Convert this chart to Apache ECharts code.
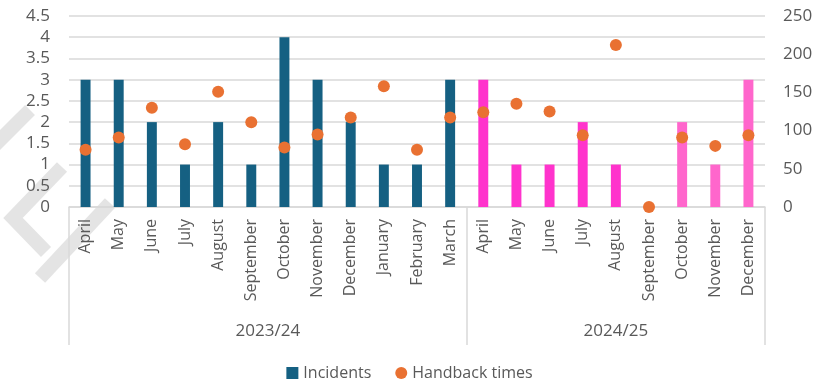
<!DOCTYPE html>
<html>
<head>
<meta charset="utf-8">
<script src="https://cdn.jsdelivr.net/npm/echarts@6/dist/echarts.min.js"></script>
<style>
  html, body { margin: 0; padding: 0; background: #fff; }
  #chart { width: 819px; height: 389px; }
</style>
</head>
<body>
<div id="chart"></div>
<script>
// data
var months = ['April', 'May', 'June', 'July', 'August', 'September', 'October', 'November',
              'December', 'January', 'February', 'March',
              'April', 'May', 'June', 'July', 'August', 'September', 'October', 'November', 'December'];
var periods = ['2023/24', '2024/25'];
var periodLength = [12, 9];
var incidents = [3, 3, 2, 1, 2, 1, 4, 3, 2, 1, 1, 3,
                 3, 1, 1, 2, 1, 0, 2, 1, 3];
var handback = [75, 91, 130, 82, 151, 111, 78, 95, 117, 158, 75, 117,
                124, 135, 125, 94, 212, 0, 91, 80, 94];

var BLUE = '#156082', MAGENTA = '#FF33CC', PINK = '#FF66CC', ORANGE = '#E97132';
var TEXT = '#595959', GRID = '#d9d9d9';
var FONT = 'Open Sans';

// unique keys so repeated month names stay separate categories
var cats = months.map(function (m, i) { return i + '|' + m; });

// where each period starts and its centre (in category units)
var starts = [], centres = [], acc = 0;
periodLength.forEach(function (n) {
    starts.push(acc);
    centres.push(acc + n / 2);
    acc += n;
});

var myChart = echarts.init(document.getElementById('chart'));

var option = {
    backgroundColor: '#fff',
    color: [BLUE, ORANGE],
    textStyle: { fontFamily: FONT },
    legend: {
        bottom: 3,
        left: 'center',
        itemGap: 24,
        itemWidth: 12,
        itemHeight: 12,
        textStyle: { color: TEXT, fontSize: 16, fontFamily: FONT },
        data: [
            { name: 'Incidents', icon: 'rect' },
            { name: 'Handback times', icon: 'circle' }
        ]
    },
    graphic: [
        // faint logo watermark on the left
        { type: 'polyline', z: -10, silent: true,
          shape: { points: [[30, 110], [-12, 152]] },
          style: { stroke: '#e4e4e4', lineWidth: 14, fill: null } },
        { type: 'polyline', z: -10, silent: true,
          shape: { points: [[62, 167], [13, 218], [46, 252]] },
          style: { stroke: '#e4e4e4', lineWidth: 14, fill: null, lineJoin: 'miter' } },
        { type: 'polyline', z: -10, silent: true,
          shape: { points: [[40, 278], [110, 203]] },
          style: { stroke: '#e4e4e4', lineWidth: 14, fill: null } }
    ],
    grid: {
        left: 69,
        top: 16,
        width: 696,
        height: 191
    },
    xAxis: [
        {
            type: 'category',
            data: cats,
            axisLine: { lineStyle: { color: GRID, width: 1.5 } },
            axisTick: {
                show: true,
                length: 138,
                interval: function (idx) { return starts.indexOf(idx) >= 0; },
                lineStyle: { color: GRID, width: 1.5 }
            },
            axisLabel: {
                interval: 0,
                rotate: 90,
                margin: 12,
                color: TEXT,
                fontSize: 16,
                fontFamily: FONT,
                formatter: function (v) { return v.split('|')[1]; }
            }
        },
        {
            type: 'value',
            position: 'bottom',
            min: 0,
            max: acc,
            interval: 1.5,
            axisLine: { show: false },
            axisTick: { show: false },
            splitLine: { show: false },
            axisLabel: {
                margin: 116,
                color: TEXT,
                fontSize: 17,
                fontFamily: FONT,
                showMinLabel: true,
                showMaxLabel: true,
                formatter: function (v) {
                    var k = centres.indexOf(v);
                    return k >= 0 ? periods[k] : '';
                }
            }
        }
    ],
    yAxis: [
        {
            type: 'value',
            min: 0,
            max: 4.5,
            interval: 0.5,
            axisLine: { show: false },
            axisTick: { show: false },
            splitLine: { lineStyle: { color: GRID, width: 1.5 } },
            axisLabel: { color: TEXT, fontSize: 17, margin: 19, fontFamily: FONT }
        },
        {
            type: 'value',
            min: 0,
            max: 250,
            interval: 50,
            axisLine: { show: false },
            axisTick: { show: false },
            splitLine: { show: false },
            axisLabel: { color: TEXT, fontSize: 17, margin: 18, fontFamily: FONT }
        }
    ],
    series: [
        {
            name: 'Incidents',
            type: 'bar',
            barWidth: '30%',
            data: incidents,
            itemStyle: {
                color: function (p) {
                    if (p.dataIndex < starts[1]) return BLUE;
                    return p.dataIndex >= starts[1] + 5 ? PINK : MAGENTA;
                }
            }
        },
        {
            name: 'Handback times',
            type: 'scatter',
            yAxisIndex: 1,
            symbol: 'circle',
            symbolSize: 12,
            clip: false,
            z: 3,
            itemStyle: { color: ORANGE, opacity: 1 },
            data: handback
        }
    ]
};

myChart.setOption(option);
</script>
</body>
</html>
